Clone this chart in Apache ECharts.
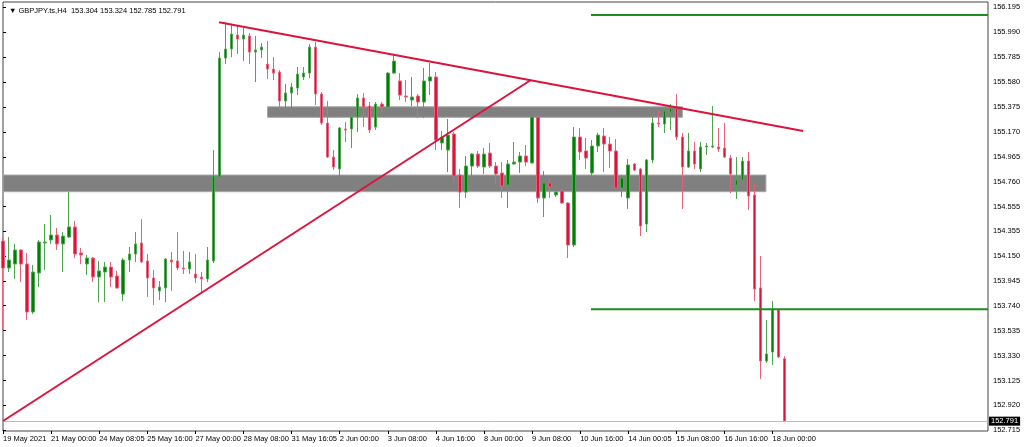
<!DOCTYPE html>
<html><head><meta charset="utf-8">
<script src="https://cdn.jsdelivr.net/npm/echarts@6/dist/echarts.min.js"></script>
<style>html,body{margin:0;padding:0;background:#fff}#c{width:1024px;height:447px}</style>
</head><body><div id="c"></div>
<script>
const symbolTitle = "GBPJPY.ts,H4";
const lastOHLC = [153.304, 153.324, 152.785, 152.791];

const opens = [154.272,154.050,154.083,154.198,154.083,153.688,154.009,154.256,154.281,154.322,
154.248,154.305,154.388,154.174,154.083,154.132,153.976,154.017,154.058,153.984,
153.836,154.116,154.165,154.256,154.108,153.968,153.861,153.886,154.116,154.108,
154.050,154.042,154.001,153.976,153.960,154.108,154.799,155.778,155.852,155.967,
155.934,155.959,155.827,155.844,155.728,155.687,155.663,155.424,155.490,155.531,
155.622,155.654,155.868,155.482,155.243,154.963,154.865,155.194,155.194,155.292,
155.449,155.383,155.210,155.399,155.375,155.654,155.589,155.465,155.432,155.465,
155.416,155.589,155.622,155.079,155.021,155.153,154.815,154.675,154.889,154.988,
154.881,154.996,154.889,154.832,154.733,154.906,154.922,154.972,154.914,155.292,
154.626,154.750,154.651,154.684,154.585,154.239,155.128,155.013,154.832,155.054,
155.136,155.070,155.013,154.708,154.626,154.906,154.865,154.412,154.939,155.243,
155.235,155.334,155.366,155.128,154.881,155.013,154.865,155.046,155.046,155.046,
155.037,154.955,154.733,154.774,154.930,154.651,153.886,153.285,153.359,153.705,
153.304];
const closes = [154.050,154.116,154.198,154.083,153.688,154.017,154.264,154.264,154.322,154.248,
154.313,154.388,154.165,154.157,154.132,153.976,154.026,154.058,153.976,153.886,
154.116,154.165,154.248,154.100,153.968,153.886,153.894,154.124,154.100,154.050,
154.042,154.100,153.968,153.960,154.116,154.807,155.778,155.852,155.975,155.934,
155.967,155.827,155.844,155.868,155.687,155.654,155.424,155.490,155.539,155.646,
155.654,155.868,155.482,155.243,154.963,154.881,155.202,155.186,155.292,155.449,
155.375,155.186,155.399,155.375,155.654,155.753,155.473,155.457,155.457,155.416,
155.589,155.622,155.103,155.128,155.144,154.807,154.675,154.889,154.988,154.889,
154.988,154.889,154.824,154.725,154.906,154.922,154.972,154.922,155.292,154.626,
154.750,154.717,154.675,154.585,154.239,155.128,155.005,154.955,155.054,155.144,
155.070,155.013,154.708,154.791,154.898,154.856,154.396,154.939,155.243,155.235,
155.342,155.366,155.128,154.881,155.013,154.906,155.046,155.054,155.054,155.029,
154.963,154.824,154.774,154.930,154.643,153.877,153.285,153.343,153.705,153.318,
152.791];
const lows = [153.540,154.017,153.960,153.935,153.622,153.672,153.894,154.034,154.248,154.198,
154.017,154.297,154.132,154.083,153.993,153.935,153.770,153.770,153.894,153.880,
153.779,154.017,154.100,154.091,153.812,153.746,153.787,153.770,153.861,154.034,
154.001,154.001,153.927,153.853,153.935,154.091,154.791,155.728,155.786,155.811,
155.753,155.728,155.580,155.778,155.605,155.597,155.350,155.358,155.292,155.473,
155.597,155.613,155.391,155.227,154.955,154.856,154.733,155.087,155.037,155.169,
155.210,155.161,155.186,155.334,155.301,155.650,155.432,155.416,155.383,155.284,
155.284,155.473,155.021,155.021,154.840,154.758,154.544,154.626,154.684,154.873,
154.824,154.873,154.741,154.626,154.544,154.900,154.832,154.889,154.910,154.585,
154.470,154.626,154.634,154.580,154.132,154.223,154.939,154.865,154.750,155.005,
154.840,154.873,154.700,154.634,154.536,154.848,154.313,154.346,154.914,155.210,
155.161,155.186,155.103,154.536,154.873,154.865,154.840,154.980,155.037,155.005,
154.955,154.667,154.618,154.766,154.527,153.779,153.137,153.269,153.252,153.310,
152.785];
const highs = [154.305,154.305,154.248,154.205,154.174,154.075,154.281,154.412,154.486,154.379,
154.346,154.675,154.437,154.215,154.157,154.141,154.108,154.100,154.100,154.026,
154.132,154.223,154.346,154.453,154.165,154.034,153.943,154.132,154.182,154.346,
154.190,154.182,154.165,154.017,154.223,155.021,155.827,156.074,156.060,156.049,
156.025,155.984,155.959,155.901,155.918,155.786,155.679,155.564,155.572,155.704,
155.704,155.893,155.910,155.498,155.424,155.021,155.210,155.251,155.334,155.482,
155.490,155.416,155.416,155.416,155.663,155.811,155.654,155.597,155.622,155.482,
155.696,155.737,155.663,155.177,155.276,155.169,154.865,154.972,154.996,155.013,
155.037,155.079,154.922,154.922,154.939,155.087,155.005,155.062,155.301,155.309,
154.848,154.783,154.766,154.700,154.593,155.210,155.202,155.120,155.103,155.161,
155.202,155.128,155.111,154.815,154.947,154.914,154.873,154.947,155.292,155.342,
155.366,155.399,155.482,155.161,155.161,155.087,155.087,155.079,155.383,155.202,
155.243,154.980,154.963,154.963,155.005,154.741,154.149,153.622,153.779,153.713,
153.324];

const timeTickIndex = [0,8,16,24,32,40,48,56,64,72,80,88,96,104,112,120,128];
const timeTickLabels = ["19 May 2021","21 May 00:00","24 May 08:05","25 May 16:00","27 May 00:00",
"28 May 08:00","31 May 16:05","2 Jun 00:00","3 Jun 08:00","4 Jun 16:00","8 Jun 00:00",
"9 Jun 08:00","10 Jun 16:00","14 Jun 00:05","15 Jun 08:00","16 Jun 16:00","18 Jun 00:00"];
const priceTicks = [152.715,152.920,153.125,153.330,153.535,153.740,153.945,154.150,154.355,
154.555,154.760,154.965,155.170,155.375,155.580,155.785,155.990,156.195];

const resistanceLine = [[35.93,156.072],[133.1,155.177]];
const supportLine = [[0,152.791],[87.8,155.597]];
const upperLevel = [[97.8,156.132],[163.84,156.132]];
const lowerLevel = [[97.8,153.710],[163.84,153.710]];
const upperZone = [[44.0,155.377],[113.0,155.290]];
const lowerZone = [[-1,154.815],[126.9,154.678]];
const currentPrice = 152.791;

const X_MIN = 0, X_MAX = 163.84, Y_MIN = 152.709, Y_MAX = 156.239;

const candleData = opens.map((o,i)=>[i,o,closes[i],lows[i],highs[i]]);
const FONT = "'Liberation Sans', 'DejaVu Sans', sans-serif";
const chart = echarts.init(document.getElementById('c'), null, {renderer:'canvas'});
chart.setOption({
  animation:false,
  backgroundColor:'#fff',
  title:{text:'\u25BC ' + symbolTitle + '  ' + lastOHLC.map(v=>v.toFixed(3)).join(' '),
    left:4, top:2, textStyle:{fontSize:7.5, fontWeight:'normal', color:'#000', fontFamily:FONT}},
  grid:{left:2, right:36, top:2, bottom:16, show:true, borderColor:'#444', borderWidth:1, backgroundColor:'#fff'},
  xAxis:{type:'value', min:X_MIN, max:X_MAX, splitLine:{show:false},
    axisLine:{show:false},
    axisTick:{show:true, length:3, customValues:timeTickIndex, lineStyle:{color:'#000'}},
    axisLabel:{customValues:timeTickIndex, align:'left', margin:4, fontSize:7.5, color:'#000', fontFamily:FONT,
      formatter:(v)=>timeTickLabels[timeTickIndex.indexOf(Math.round(v))] || ''}},
  yAxis:{type:'value', position:'right', min:Y_MIN, max:Y_MAX, scale:true, splitLine:{show:false},
    axisLine:{show:false},
    axisTick:{show:true, length:3, customValues:priceTicks, lineStyle:{color:'#000'}},
    axisLabel:{customValues:priceTicks, margin:5, fontSize:7.5, color:'#000', fontFamily:FONT,
      formatter:(v)=>v.toFixed(3)}},
  series:[
    {type:'line', data:[], z:1, markArea:{silent:true,
      itemStyle:{color:'#808080', borderColor:'#a8a8a8', borderWidth:1},
      data:[[{coord:upperZone[0]},{coord:upperZone[1]}],[{coord:lowerZone[0]},{coord:lowerZone[1]}]]}},
    {type:'candlestick', z:3, barWidth:3, clip:true,
      dimensions:['idx','open','close','lowest','highest'],
      encode:{x:'idx', y:['open','close','lowest','highest']},
      itemStyle:{color:'#008000', color0:'#DC143C', borderColor:'#4da64d', borderColor0:'#e8607a', borderWidth:1},
      data:candleData,
      markLine:{silent:true, symbol:'none', animation:false,
        lineStyle:{color:'#b4bccb', width:1, type:'solid'},
        label:{show:true, position:'end', distance:1, formatter:()=>currentPrice.toFixed(3),
          backgroundColor:'#000', color:'#fff', fontSize:7.5, fontFamily:FONT, padding:[1,2,0,2]},
        data:[{yAxis:currentPrice}]}},
    {type:'line', z:5, data:resistanceLine, symbol:'none', lineStyle:{color:'#DC143C', width:2}},
    {type:'line', z:5, data:supportLine, symbol:'none', lineStyle:{color:'#DC143C', width:2}},
    {type:'line', z:5, data:upperLevel, symbol:'none', lineStyle:{color:'#1E8C1E', width:2}},
    {type:'line', z:5, data:lowerLevel, symbol:'none', lineStyle:{color:'#1E8C1E', width:2}}
  ]
});
</script></body></html>
